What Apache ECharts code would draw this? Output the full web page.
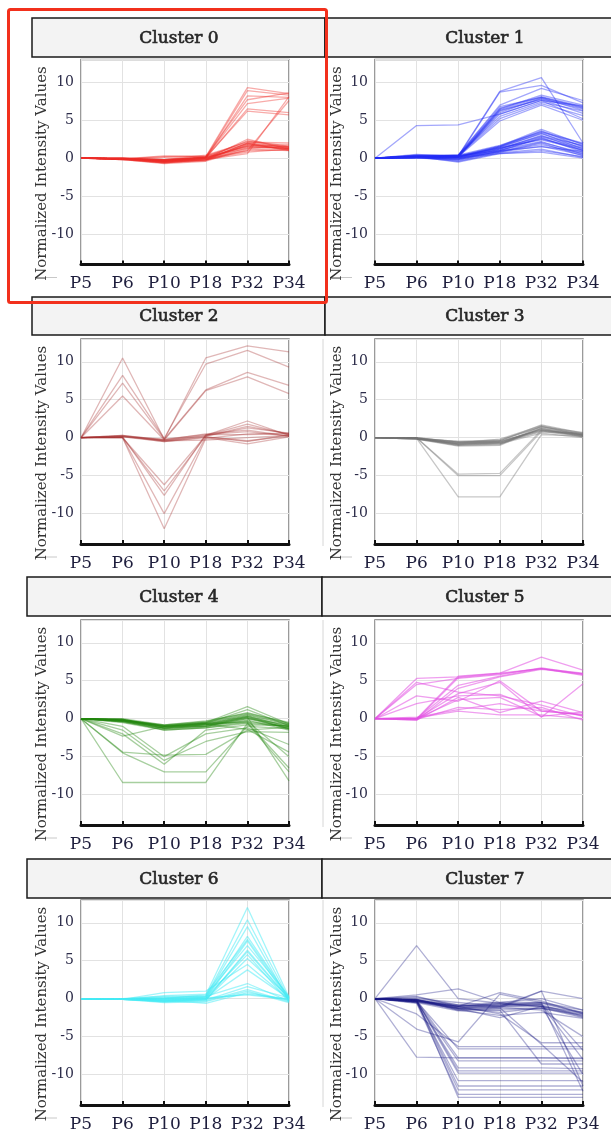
<!DOCTYPE html>
<html>
<head>
<meta charset="utf-8">
<script src="https://cdn.jsdelivr.net/npm/echarts@6/dist/echarts.min.js"></script>
<style>
html,body{margin:0;padding:0;background:#fff;}
#chart{width:611px;height:1140px;}
</style>
</head>
<body>
<div id="chart"></div>
<script>
const categories = ["P5","P6","P10","P18","P32","P34"];
const clusterNames = ["Cluster 0","Cluster 1","Cluster 2","Cluster 3","Cluster 4","Cluster 5","Cluster 6","Cluster 7"];
const yTickValues = [-10,-5,0,5,10];
const yAxisTitle = "Normalized Intensity Values";

const cluster0 = [
[0,-0.1,-0.3,0.2,9.3,8.5],[0,-0.1,-0.2,0.1,8.9,8.3],[0,0,-0.4,0.0,8.2,8.0],[0,-0.1,-0.3,0.2,7.7,8.6],
[0,0,-0.2,0.1,7.2,7.9],[0,-0.1,-0.3,0.0,6.5,6.0],[0,-0.1,-0.4,0.1,6.2,5.7],
[0,-0.1,-0.3,-0.2,0.6,8.1],[0,0,-0.2,0.0,1.0,7.6],
[0,-0.1,-0.5,-0.2,2.0,1.4],[0,-0.2,-0.6,-0.3,1.8,1.2],[0,-0.1,-0.4,0.0,2.3,1.6],[0,0.0,-0.3,0.1,1.5,1.3],
[0,-0.2,-0.7,-0.4,1.2,1.0],[0,-0.1,0.2,0.3,1.9,1.5],[0,-0.1,0.3,0.2,1.6,1.8],[0,-0.1,-0.5,-0.1,2.5,1.2],
[0,-0.2,-0.6,-0.2,1.0,1.1],[0,0.0,-0.2,0.4,2.1,2.0],[0,-0.1,-0.4,-0.3,1.4,1.3],[0,-0.1,-0.5,0.0,1.7,1.4],
[0,-0.2,-0.3,-0.1,0.8,1.2],[0,-0.1,0.1,0.2,2.2,1.5],[0,-0.1,-0.6,-0.2,1.9,1.1],[0,0.0,-0.4,0.1,1.3,1.6],
[0,-0.1,-0.5,-0.2,2.0,1.0],[0,-0.1,-0.2,0.0,1.6,1.3]
];
const cluster1 = [
[0,4.3,4.4,5.8,7.6,5.2],[0,0.2,0.3,8.8,10.6,2.0],[0,0.1,0.2,8.7,9.6,7.3],[0,0.3,0.4,7.0,9.2,7.6],
[0,0.2,0.3,6.6,8.1,6.8],[0,0.1,0.2,6.4,8.0,6.6],[0,0.2,0.1,6.2,7.8,6.5],[0,0.1,0.3,6.0,7.9,6.3],
[0,0.2,0.2,5.8,7.6,6.9],[0,0.1,0.4,5.5,7.4,6.2],[0,0.3,0.3,5.2,7.2,5.6],[0,0.2,0.2,4.9,7.0,5.0],
[0,0.1,0.3,6.5,8.3,7.0],[0,0.2,0.4,6.8,8.0,6.7],[0,0.1,0.2,6.3,7.7,5.9],
[0,0.3,0.2,1.5,3.6,1.5],[0,0.2,0.1,1.4,3.3,1.2],[0,0.4,0.3,1.6,3.8,1.8],[0,0.1,0.0,1.2,3.0,1.0],
[0,0.2,-0.2,1.0,2.7,0.8],[0,0.3,0.1,1.3,2.5,1.3],[0,0.1,0.2,1.1,2.2,0.5],[0,0.2,-0.3,0.8,2.0,0.3],
[0,0.0,-0.1,0.9,1.8,0.6],[0,0.3,0.3,1.0,1.5,0.9],[0,0.1,-0.4,0.7,1.2,0.1],[0,0.2,0.0,0.6,1.0,0.2],
[0,0.4,0.4,1.7,3.5,2.0],[0,0.2,0.1,1.5,3.2,1.6],[0,0.1,-0.1,1.2,2.8,1.4],[0,0.3,0.2,1.4,2.4,1.1],
[0,0.0,-0.2,0.9,2.1,0.7],[0,0.2,0.1,0.8,1.6,0.4],[0,0.1,0.3,1.3,2.9,1.7],[0,0.5,0.2,1.6,3.4,1.9],
[0,0.2,-0.5,0.6,0.8,0.0],[0,0.1,0.0,1.0,2.6,1.0]
];
const cluster2 = [
[0,10.5,-0.2,10.5,12.1,11.3],[0,8.2,-0.1,9.7,11.5,9.3],[0,7.2,-0.2,6.3,8.6,6.9],[0,5.5,-0.3,6.2,8.0,5.8],
[0,0,-6.2,0.3,2.2,0.3],[0,0,-7.0,0.2,1.5,0.5],[0,0.1,-7.6,0.4,0.8,0.2],[0,0,-10.0,0.1,-0.5,0.4],[0,0,-12.0,-0.1,0.5,0.6],
[0,0.2,-0.4,0.3,1.8,0.4],[0,0.3,-0.3,0.5,1.0,0.2],[0,0.1,-0.5,0.0,-0.8,0.1],[0,0.2,-0.2,0.4,0.4,0.5],
[0,0.3,-0.4,-0.3,0.0,0.3],[0,0.1,-0.3,0.2,1.3,0.6],[0,0.2,-0.5,0.1,-0.4,0.2]
];
const cluster3 = [
[0,0,-5.0,-5.0,0.8,0.3],[0,-0.1,-7.8,-7.8,0.4,0.2],[0,0,-4.8,-4.7,1.0,0.4],
[0,-0.1,-0.8,-0.6,1.2,0.5],[0,-0.2,-1.0,-0.9,1.5,0.3],[0,0.0,-0.6,-0.4,1.7,0.6],[0,-0.1,-0.9,-0.7,0.9,0.1],
[0,-0.2,-0.7,-0.5,1.0,0.4],[0,-0.1,-0.5,-0.3,1.4,0.7],[0,0.0,-0.8,-0.8,0.6,0.0],[0,-0.2,-1.1,-1.0,1.3,0.3],
[0,-0.1,-0.7,-0.2,1.6,0.5],[0,-0.1,-0.9,-0.6,1.1,0.2],[0,0.0,-0.6,-0.7,0.8,0.6],[0,-0.2,-0.8,-0.4,1.5,0.4],
[0,-0.1,-1.0,-0.8,1.2,0.1],[0,-0.1,-0.5,-0.5,1.0,0.3]
];
const cluster4 = [
[0,-8.4,-8.4,-8.4,-0.6,-1.0],[0,-4.5,-7.0,-7.0,-1.0,-1.3],[0,-4.4,-4.8,-4.7,-1.5,-1.1],[0,-2.0,-6.0,-1.5,-0.8,-0.9],
[0,-1.5,-5.5,-3.0,-1.7,-1.8],[0,-1.0,-5.0,-2.0,-1.2,-3.4],[0,-0.3,-1.2,-0.8,-0.3,-5.0],[0,-0.2,-1.0,-0.6,-0.5,-6.5],
[0,-0.4,-1.3,-1.0,0.2,-8.2],[0,-0.3,-1.5,-1.2,-0.6,-7.0],[0,-2.3,-1.0,-0.7,-1.4,-4.4],
[0,-0.1,-0.9,-0.6,0.5,-0.8],[0,-0.2,-1.0,-0.8,0.3,-1.0],[0,-0.3,-1.2,-1.0,0.0,-1.3],[0,0.0,-0.8,-0.4,0.8,-0.6],
[0,-0.2,-1.1,-0.7,0.4,-1.1],[0,-0.1,-1.3,-0.9,0.2,-1.4],[0,-0.4,-1.4,-1.1,-0.2,-1.5],[0,-0.2,-0.9,-0.5,0.6,-0.7],
[0,-0.1,-1.0,-0.6,1.2,-0.9],[0,-0.3,-1.2,-0.8,0.1,-1.2],[0,-0.5,-1.5,-1.2,-0.4,-1.0],[0,-0.2,-0.8,-0.3,0.7,-0.5],
[0,-0.1,-1.1,-0.7,0.3,-1.3],[0,-0.3,-1.0,-1.0,0.0,-0.8],[0,-0.2,-0.9,-0.5,1.6,-0.7]
];
const cluster5 = [
[0,5.3,5.5,6.0,8.1,6.4],[0,4.5,5.3,5.8,6.7,5.9],[0,0.0,5.6,6.0,6.6,5.8],[0,-0.1,5.4,5.9,6.6,5.7],
[0,0.0,4.4,5.6,6.6,6.0],[0,-0.2,4.0,5.5,6.5,5.9],[0,3.0,2.3,5.0,1.0,0.5],[0,2.0,3.0,3.2,1.2,0.4],
[0,-0.2,2.8,0.8,2.3,0.8],[0,0.0,3.3,4.8,0.2,4.6],[0,0.1,1.0,0.5,0.5,0.0],[0,-0.1,1.5,1.2,1.5,-0.2],
[0,4.8,3.5,3.0,1.8,0.3],[0,0.0,2.5,2.8,0.3,0.9],[0,0.2,1.2,2.0,1.0,0.6]
];
const cluster6 = [
[0,-0.1,0.0,0.5,12.0,0.2],[0,-0.1,0.2,0.3,10.4,0.0],[0,0.0,-0.2,0.2,9.5,-0.3],[0,-0.1,0.1,0.1,8.2,0.1],
[0,-0.1,-0.3,0.0,7.6,-0.2],[0,0.0,0.3,0.4,7.0,0.3],[0,-0.1,-0.1,-0.2,6.4,0.0],[0,-0.1,0.0,0.2,5.8,-0.4],
[0,0.0,-0.4,-0.1,5.3,0.2],[0,-0.1,0.8,1.0,4.5,-0.1],[0,-0.1,-0.2,0.0,3.8,0.0],[0,0.0,0.1,0.3,2.0,-0.3],
[0,-0.1,-0.3,-0.2,1.6,0.1],[0,-0.1,-0.5,-0.4,1.0,-0.5],[0,0.0,-0.2,-0.6,0.8,-0.2],[0,-0.1,0.0,0.0,0.6,0.0],
[0,-0.1,-0.4,-0.3,1.2,-0.4],[0,0.0,-0.1,0.1,0.5,-0.1],[0,-0.1,0.4,0.6,7.8,0.1],[0,-0.1,-0.3,-0.1,6.2,-0.1]
];
const cluster7 = [
[0,7.0,0.0,-0.6,-1.0,-1.8],[0,-4.0,-5.7,0.6,-0.5,-1.5],[0,-7.7,-7.8,-7.8,-7.8,-7.8],[0,-2.0,-6.3,-6.3,-6.3,-6.3],
[0,-0.3,-6.6,-6.6,-6.6,-6.6],[0,-0.2,-7.8,-7.8,-7.8,-7.9],[0,-0.4,-8.2,-8.2,-8.2,-8.2],[0,-0.3,-9.1,-9.1,-9.1,-9.2],
[0,-0.2,-9.5,-9.5,-9.5,-9.5],[0,-0.5,-10.8,-10.8,-10.8,-10.8],[0,-0.3,-11.5,-11.5,-11.5,-11.5],[0,-0.4,-12.0,-12.0,-12.0,-12.0],
[0,-0.2,-13.0,-13.0,-13.0,-13.0],[0,-0.6,-12.6,-12.6,-12.6,-12.6],[0,-0.3,-9.8,-9.8,-9.8,-9.8],
[0,-0.2,-1.0,-2.0,-5.8,-5.8],[0,-0.3,-1.3,-1.5,-8.6,-8.6],[0,-0.1,-0.8,-1.2,-6.0,-11.0],
[0,-0.2,-1.2,-1.0,-0.8,-8.0],[0,-0.3,-1.0,-0.6,-1.0,-10.0],[0,-0.1,-1.5,-1.2,1.0,-11.5],[0,-0.2,-0.9,-0.8,-0.5,-12.2],
[0,-0.4,-1.3,-1.1,-1.5,-5.0],[0,-0.3,-1.1,-0.9,-0.7,-6.8],
[0,-0.2,-1.2,-1.0,-1.0,-2.0],[0,-0.3,-1.0,-0.8,-0.8,-2.3],[0,0.2,-0.8,-0.5,-0.5,-1.8],[0,-0.1,-1.4,-1.3,-1.2,-2.5],
[0,-0.5,-1.6,-1.5,-1.3,-2.2],[0,0.5,1.3,-0.5,0.0,-1.5],[0,-0.2,-1.0,0.8,-0.3,-2.0],[0,-0.3,-1.5,-2.2,-1.8,-2.6],
[0,0.0,-0.5,-1.0,1.0,0.0],[0,-0.2,-1.2,-1.8,-1.2,-2.1],[0,0.3,-1.0,-0.7,-0.6,-1.9],[0,-0.4,-1.3,-2.5,-1.0,-2.4]
];
const clusterData = [cluster0,cluster1,cluster2,cluster3,cluster4,cluster5,cluster6,cluster7];

// styles & layout
const lineColors = ['rgba(238,45,40,0.4)','rgba(35,45,245,0.42)','rgba(165,50,50,0.35)','rgba(115,115,115,0.4)',
  'rgba(35,135,15,0.4)','rgba(225,80,225,0.55)','rgba(70,235,245,0.5)','rgba(28,28,135,0.35)'];
const colLeft = [81, 375];
const gridW = 208;
const rowTop = [59.5, 339, 620, 900];
const gridH = 205;
const headerY = [18, 297, 577, 859];
const headerH = [39, 38, 39, 39];
const headerX = [[32, 325, 615], [32, 325, 615], [27, 322, 615], [27, 322, 615]];
const titleX = [42, 337];
const serif = "DejaVu Serif";

const grids = [], xAxes = [], yAxes = [], series = [], graphics = [];
clusterData.forEach((lines, i) => {
  const r = Math.floor(i / 2), c = i % 2;
  grids.push({left: colLeft[c], top: rowTop[r], width: gridW, height: gridH,
    show: true, borderColor: '#7a7a7a', borderWidth: 1.5, backgroundColor: '#fff'});
  xAxes.push({type: 'category', gridIndex: i, data: categories, boundaryGap: false,
    axisLine: {show: true, onZero: false, lineStyle: {color: '#111', width: 3}},
    axisTick: {show: true, inside: true, length: 4, interval: 0, lineStyle: {color: '#111', width: 2}},
    axisLabel: {fontFamily: serif, fontSize: 17, color: '#1d1d3c', margin: 11, interval: 0},
    splitLine: {show: true, interval: 0, lineStyle: {color: '#e2e2e2', width: 1}}});
  yAxes.push({type: 'value', gridIndex: i, min: -14, max: 13, splitNumber: 5,
    axisLine: {show: false}, axisTick: {show: false},
    axisLabel: {fontFamily: serif, fontSize: 14, color: '#2d2d4a', margin: 7,
      formatter: v => yTickValues.indexOf(v) >= 0 ? String(v) : ''},
    splitLine: {show: true, lineStyle: {color: '#e2e2e2', width: 1}}});
  lines.forEach(d => {
    series.push({type: 'line', xAxisIndex: i, yAxisIndex: i, data: d, symbol: 'none',
      silent: true, lineStyle: {color: lineColors[i], width: 1.3}, z: 2});
  });
  // header
  const hx0 = headerX[r][c], hx1 = headerX[r][c + 1];
  graphics.push({type: 'rect', shape: {x: hx0, y: headerY[r], width: hx1 - hx0, height: headerH[r]},
    style: {fill: '#f3f3f3', stroke: '#1a1a1a', lineWidth: 1.5}, z: 10});
  graphics.push({type: 'text', x: colLeft[c] + gridW / 2 - 6 + (c === 1 ? 12 : 0), y: headerY[r] + headerH[r] / 2 + 1,
    style: {text: clusterNames[i], font: '17px "DejaVu Serif"', fill: '#262626', stroke: '#262626', lineWidth: 0.6,
      textAlign: 'center', textVerticalAlign: 'middle'}, z: 11});
  // y-axis title
  graphics.push({type: 'text', x: titleX[c], y: rowTop[r] + 114, rotation: Math.PI / 2,
    style: {text: yAxisTitle, font: '15px "DejaVu Serif"', fill: '#333', textAlign: 'center', textVerticalAlign: 'middle'}, z: 11});
  // small dash at the bottom-left
  graphics.push({type: 'line', shape: {x1: titleX[c] - 7, y1: rowTop[r] + gridH + 13, x2: titleX[c] + 15, y2: rowTop[r] + gridH + 13},
    style: {stroke: '#c8c8c8', lineWidth: 1}, z: 1});
  if (c === 1 && r > 0) {
    graphics.push({type: 'line', shape: {x1: 323, y1: rowTop[r], x2: 323, y2: rowTop[r] + gridH + 2},
      style: {stroke: '#d6d6d6', lineWidth: 1}, z: 1});
  }
});
// red highlight box
graphics.push({type: 'rect', shape: {x: 8.5, y: 9.5, width: 318, height: 293, r: 2},
  style: {fill: 'none', stroke: '#f2301c', lineWidth: 3}, z: 20});

const chart = echarts.init(document.getElementById('chart'), null, {renderer: 'canvas'});
chart.setOption({
  animation: false,
  backgroundColor: '#fff',
  grid: grids, xAxis: xAxes, yAxis: yAxes, series: series, graphic: graphics
});
</script>
</body>
</html>
